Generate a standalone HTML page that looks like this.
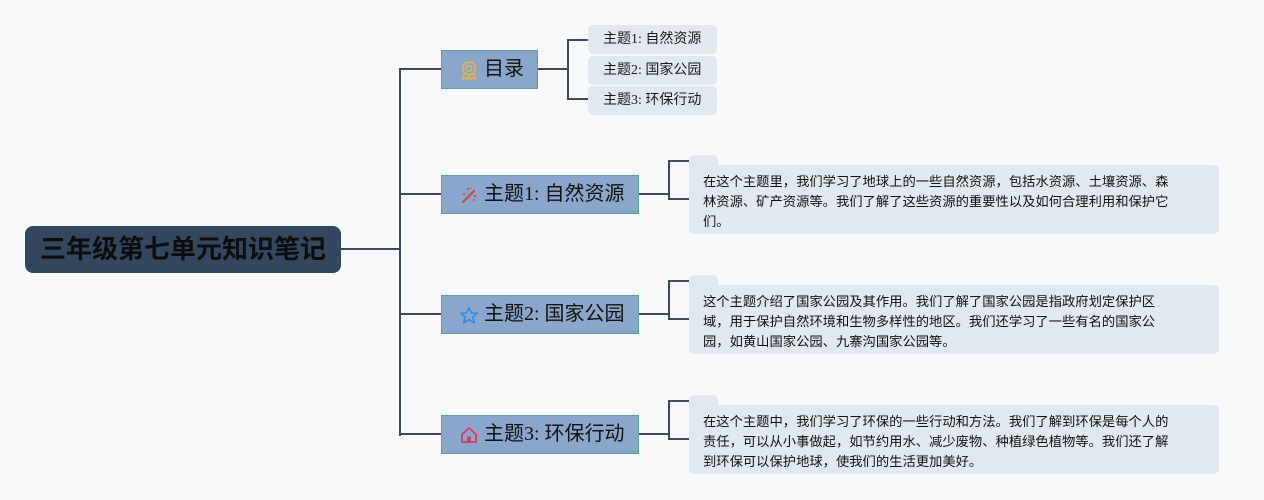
<!DOCTYPE html>
<html><head><meta charset="utf-8">
<style>
*{margin:0;padding:0;box-sizing:border-box}
html,body{width:1264px;height:500px;background:#f8f9fb;overflow:hidden;position:relative;font-family:"Liberation Sans","Noto Sans CJK SC",sans-serif}
.l{position:absolute;background:#3b4a5c}
.root{position:absolute;left:25px;top:226px;width:316px;height:47px;background:#35465f;border-radius:8px;color:#0d0d0d;font-weight:bold;font-size:26px;line-height:47px;text-align:center;font-family:"Liberation Sans","Noto Sans CJK SC",sans-serif}
.br{position:absolute;left:441px;height:39px;background:#8ba6cb;border:1px solid #5f9c9c;color:#111;font-size:20px;line-height:37px;font-family:"Liberation Serif","Noto Sans CJK SC",serif;white-space:nowrap}
.br svg{position:absolute;top:10px}
.br span{position:absolute;left:42px;top:0}
.sub{position:absolute;left:588px;width:129px;height:29px;background:#e2e8f0;border-radius:5px;font-size:14px;line-height:29px;padding-left:15px;color:#1a1a1a;font-family:"Liberation Serif","Noto Sans CJK SC",serif;white-space:nowrap}
.sm{position:absolute;left:689px;width:29px;height:16px;background:#e2e8f0;border-radius:5px}
.box{position:absolute;left:689px;width:530px;height:69px;background:#e2e8f0;border-radius:5px;padding:7px 0 0 14px;font-size:13.3px;line-height:20px;color:#111;font-family:"Liberation Sans","Noto Sans CJK SC",sans-serif;white-space:nowrap}
</style></head><body>

<div class="l" style="left:341px;top:248px;width:60px;height:2px"></div>
<div class="l" style="left:399px;top:68px;width:2px;height:368px"></div>
<div class="l" style="left:399px;top:68px;width:42px;height:2px"></div>
<div class="l" style="left:399px;top:193px;width:42px;height:2px"></div>
<div class="l" style="left:399px;top:313px;width:42px;height:2px"></div>
<div class="l" style="left:399px;top:433px;width:42px;height:2px"></div>

<div class="l" style="left:538px;top:68px;width:31px;height:2px"></div>
<div class="l" style="left:567px;top:39px;width:2px;height:61px"></div>
<div class="l" style="left:567px;top:39px;width:21px;height:2px"></div>
<div class="l" style="left:567px;top:98px;width:21px;height:2px"></div>

<div class="l" style="left:639px;top:193px;width:31px;height:2px"></div>
<div class="l" style="left:668px;top:160px;width:2px;height:40px"></div>
<div class="l" style="left:668px;top:160px;width:21px;height:2px"></div>
<div class="l" style="left:668px;top:198px;width:21px;height:2px"></div>

<div class="l" style="left:639px;top:313px;width:31px;height:2px"></div>
<div class="l" style="left:668px;top:280px;width:2px;height:40px"></div>
<div class="l" style="left:668px;top:280px;width:21px;height:2px"></div>
<div class="l" style="left:668px;top:318px;width:21px;height:2px"></div>

<div class="l" style="left:639px;top:433px;width:31px;height:2px"></div>
<div class="l" style="left:668px;top:400px;width:2px;height:40px"></div>
<div class="l" style="left:668px;top:400px;width:21px;height:2px"></div>
<div class="l" style="left:668px;top:438px;width:21px;height:2px"></div>

<div class="root">三年级第七单元知识笔记</div>

<div class="br" style="top:50px;width:97px">
<svg style="left:18px" width="18" height="20" viewBox="0 0 18 20"><circle cx="9" cy="7.5" r="6.3" fill="none" stroke="#e5b540" stroke-width="1.6"/><circle cx="9" cy="7.5" r="2.8" fill="none" stroke="#e5b540" stroke-width="1.4"/><path d="M4.5 12 L2.5 18 L6 16.5 L7.5 19 L9 14 M13.5 12 L15.5 18 L12 16.5 L10.5 19 L9 14" fill="none" stroke="#e5b540" stroke-width="1.4" stroke-linejoin="round"/></svg>
<span>目录</span></div>

<div class="br" style="top:175px;width:198px">
<svg style="left:18px" width="18" height="18" viewBox="0 0 18 18"><path d="M3 16 L11 8" stroke="#d4433e" stroke-width="2" stroke-linecap="round"/><path d="M12 7 L14 5" stroke="#d4433e" stroke-width="2" stroke-linecap="round"/><circle cx="8" cy="3" r="1.1" fill="#d4433e"/><circle cx="15" cy="10" r="1.1" fill="#d4433e"/><circle cx="4" cy="8" r="1" fill="#d4433e"/><circle cx="14" cy="14" r="0.9" fill="#d4433e"/><circle cx="11" cy="2" r="0.8" fill="#d4433e"/></svg>
<span>主题1: 自然资源</span></div>

<div class="br" style="top:295px;width:198px">
<svg style="left:17px" width="20" height="19" viewBox="0 0 20 19"><path d="M10 1.5 L12.4 7 L18.3 7.3 L13.7 11 L15.3 16.8 L10 13.6 L4.7 16.8 L6.3 11 L1.7 7.3 L7.6 7 Z" fill="none" stroke="#2a8fdc" stroke-width="1.6" stroke-linejoin="round"/></svg>
<span>主题2: 国家公园</span></div>

<div class="br" style="top:415px;width:198px">
<svg style="left:18px" width="18" height="18" viewBox="0 0 18 18"><path d="M2 8.5 L9 2 L16 8.5 L16 16 L2 16 Z" fill="none" stroke="#d63a5c" stroke-width="1.8" stroke-linejoin="round"/><rect x="7" y="10.5" width="4" height="5.5" fill="#d63a5c"/></svg>
<span>主题3: 环保行动</span></div>

<div class="sub" style="top:25px">主题1: 自然资源</div>
<div class="sub" style="top:56px">主题2: 国家公园</div>
<div class="sub" style="top:86px">主题3: 环保行动</div>

<div class="sm" style="top:155px"></div>
<div class="box" style="top:165px">在这个主题里，我们学习了地球上的一些自然资源，包括水资源、土壤资源、森<br>林资源、矿产资源等。我们了解了这些资源的重要性以及如何合理利用和保护它<br>们。</div>

<div class="sm" style="top:275px"></div>
<div class="box" style="top:285px">这个主题介绍了国家公园及其作用。我们了解了国家公园是指政府划定保护区<br>域，用于保护自然环境和生物多样性的地区。我们还学习了一些有名的国家公<br>园，如黄山国家公园、九寨沟国家公园等。</div>

<div class="sm" style="top:395px"></div>
<div class="box" style="top:405px">在这个主题中，我们学习了环保的一些行动和方法。我们了解到环保是每个人的<br>责任，可以从小事做起，如节约用水、减少废物、种植绿色植物等。我们还了解<br>到环保可以保护地球，使我们的生活更加美好。</div>

</body></html>
